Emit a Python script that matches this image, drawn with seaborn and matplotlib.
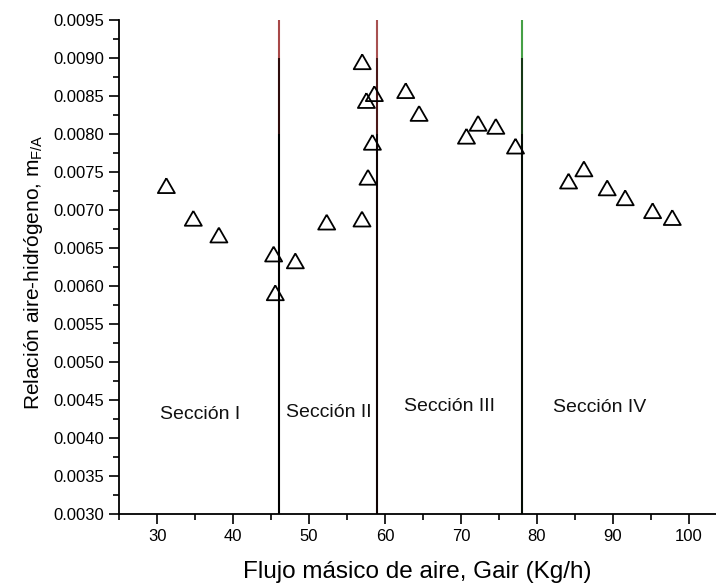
import matplotlib
matplotlib.use("Agg")
import matplotlib.pyplot as plt
from matplotlib.ticker import MultipleLocator, FormatStrFormatter
import seaborn as sns
import pandas as pd

# Air mass flow (kg/h) and air-hydrogen ratio measurements
gair = [31.2, 34.75, 38.12, 45.33, 45.55, 48.19, 52.32, 56.97, 57.0, 57.55,
        57.76, 58.34, 58.6, 62.73, 64.49, 70.73, 72.26, 74.6, 77.19, 84.18,
        86.2, 89.27, 91.64, 95.25, 97.84]
ratio = [0.00732, 0.00689, 0.00667, 0.00642, 0.00591, 0.00633, 0.00684,
         0.00688, 0.00895, 0.00844, 0.00743, 0.00789, 0.00853, 0.00857,
         0.00827, 0.00797, 0.00814, 0.00810, 0.00784, 0.00738, 0.00754,
         0.00729, 0.00716, 0.00699, 0.00690]

# Section boundaries and labels
boundaries = [46, 59, 78]
section_names = ["Sección I", "Sección II", "Sección III", "Sección IV"]
section_x = [35.7, 52.6, 68.5, 88.3]
section_y = [0.00431, 0.00433, 0.00441, 0.00440]

y_ticks = [0.0030, 0.0035, 0.0040, 0.0045, 0.0050, 0.0055, 0.0060, 0.0065,
           0.0070, 0.0075, 0.0080, 0.0085, 0.0090, 0.0095]
x_ticks = [30, 40, 50, 60, 70, 80, 90, 100]

sns.set_theme(style="ticks")
plt.rcParams["font.family"] = ["Liberation Sans", "DejaVu Sans"]
plt.rcParams["mathtext.fontset"] = "custom"
plt.rcParams["mathtext.rm"] = "Liberation Sans"
plt.rcParams["text.color"] = "black"
plt.rcParams["axes.labelcolor"] = "black"

fig = plt.figure(figsize=(7.16, 5.88), dpi=100)
ax = fig.add_axes([0.1666, 0.1259, 0.8334, 0.8401])

df = pd.DataFrame({"Gair": gair, "mFA": ratio})

# boundary lines, drawn in shaded segments (top to bottom)
seg_levels = [0.0095, 0.0090, 0.0080, 0.0030]
seg_colours = [
    ["#a84848", "#2e0c0c", "#000000"],
    ["#a85050", "#4a1818", "#100404"],
    ["#45a045", "#163816", "#040c04"],
]
for xb, cols in zip(boundaries, seg_colours):
    for i, c in enumerate(cols):
        ax.vlines(xb, seg_levels[i + 1], seg_levels[i], colors=c,
                  linewidth=1.5, zorder=1)

tri = [(0, 0.87), (-1, -0.87), (1, -0.87), (0, 0.87)]
sns.scatterplot(data=df, x="Gair", y="mFA", ax=ax, marker=tri, s=150,
                facecolor="none", edgecolor="black", linewidth=1.3,
                zorder=3, legend=False)

for name, sx, sy in zip(section_names, section_x, section_y):
    ax.text(sx, sy, name, ha="center", va="center", fontsize=14,
            color="#111111")

ax.set_xlim(25, 103.6)
ax.set_ylim(0.0030, 0.0095)
ax.set_xticks(x_ticks)
ax.set_yticks(y_ticks)
ax.xaxis.set_minor_locator(MultipleLocator(5))
ax.yaxis.set_minor_locator(MultipleLocator(0.00025))
ax.yaxis.set_major_formatter(FormatStrFormatter("%.4f"))

ax.tick_params(axis="both", which="major", direction="out", length=7,
               width=1.2, labelsize=12, colors="black", pad=4)
ax.tick_params(axis="both", which="minor", direction="out", length=4,
               width=1.2, colors="black")

for side in ["top", "right"]:
    ax.spines[side].set_visible(False)
for side in ["left", "bottom"]:
    ax.spines[side].set_linewidth(1.3)
    ax.spines[side].set_color("black")

ax.set_xlabel("Flujo másico de aire, Gair (Kg/h)", fontsize=17.5, labelpad=12,
              color="black")
ax.set_ylabel(r"Relación aire-hidrógeno, m$_{\mathrm{F/A}}$", fontsize=15,
              labelpad=6, color="black")
ax.yaxis.set_label_coords(-0.125, 0.49)

fig.savefig("out.png", dpi=100)
